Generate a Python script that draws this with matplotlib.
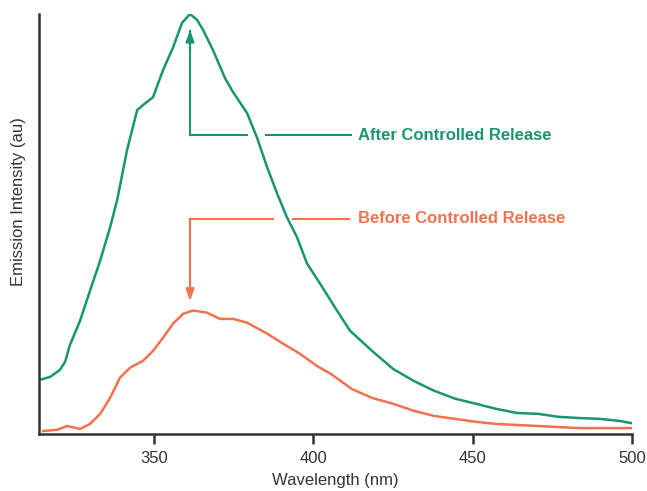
import numpy as np
import matplotlib.pyplot as plt

# emission spectra (arbitrary units, peak = 100)
after_wl = [314.2, 317.4, 320.5, 322.1, 323.6, 326.8, 329.9, 333.1, 336.2, 338.4,
            341.5, 344.7, 346.5, 349.7, 352.8, 356.0, 358.8, 361.3, 363.5, 365.4,
            368.5, 372.3, 374.8, 379.2, 382.3, 385.5, 388.6, 391.7, 394.9, 398.0,
            402.1, 407.4, 411.5, 418.4, 425.0, 431.6, 437.9, 444.5, 451.0, 457.3,
            463.9, 470.5, 476.8, 483.4, 490.0, 496.2, 499.7]
after_int = [12.9, 13.6, 15.3, 17.2, 21.2, 27.0, 34.1, 41.3, 49.2, 55.6,
             67.5, 77.1, 78.3, 80.2, 86.6, 92.1, 97.9, 100.0, 98.6, 96.2,
             91.4, 84.7, 81.4, 76.4, 70.6, 63.5, 57.3, 51.6, 46.8, 40.6,
             35.8, 29.4, 24.6, 19.8, 15.5, 12.6, 10.3, 8.4, 7.2, 6.0,
             5.0, 4.8, 4.1, 3.8, 3.6, 3.1, 2.6]

before_wl = [315.2, 319.6, 322.7, 326.8, 329.9, 333.1, 336.2, 339.3, 342.5, 346.5,
             349.7, 352.8, 356.0, 359.1, 362.2, 366.6, 370.7, 374.8, 379.2, 385.5,
             390.5, 395.8, 401.1, 405.5, 412.1, 418.4, 425.0, 431.6, 437.9, 444.5,
             451.0, 457.3, 470.5, 483.4, 499.7]
before_int = [0.7, 1.0, 1.9, 1.2, 2.4, 4.8, 8.6, 13.4, 15.8, 17.4,
              19.8, 22.9, 26.3, 28.6, 29.4, 28.9, 27.4, 27.4, 26.5, 23.9,
              21.5, 19.1, 16.2, 14.3, 10.7, 8.6, 7.2, 5.5, 4.3, 3.6,
              2.9, 2.4, 1.9, 1.4, 1.4]

x_ticks = [350, 400, 450, 500]

green = "#17976b"
orange = "#f3714f"
axcol = "#333333"

plt.rcParams["font.family"] = ["Liberation Sans", "DejaVu Sans"]

fig = plt.figure(figsize=(6.47, 4.91), dpi=100)
ax = fig.add_axes([0.0603, 0.1161, 0.9165, 0.8554])

ax.plot(after_wl, after_int, color=green, lw=1.8, solid_joinstyle="round")
ax.plot(before_wl, before_int, color=orange, lw=1.8, solid_joinstyle="round")

ax.set_xlim(313.9, 500)
ax.set_ylim(0, 100)
ax.set_xticks(x_ticks)
ax.set_yticks([])
for s in ["top", "right"]:
    ax.spines[s].set_visible(False)
for s in ["left", "bottom"]:
    ax.spines[s].set_color(axcol)
    ax.spines[s].set_linewidth(1.8)
ax.tick_params(axis="x", direction="out", length=7, width=1.8, color=axcol,
               labelsize=12, labelcolor=axcol, pad=5)
ax.set_xlabel("Wavelength (nm)", fontsize=12, color=axcol, labelpad=5.5)
ax.set_ylabel("Emission Intensity (au)", fontsize=12, color=axcol)
ax.yaxis.set_label_coords(-0.022, 0.554)

# peak markers: elbow connector with a gap where it crosses the green curve
pk_after = after_wl[int(np.argmax(after_int))]

ya = 71.1
ax.plot([pk_after, pk_after], [ya, 96], color=green, lw=1.5)
ax.plot([pk_after, 379.3], [ya, ya], color=green, lw=1.5)
ax.plot([385.0, 411.8], [ya, ya], color=green, lw=1.5)
ax.annotate("", xy=(pk_after, 96.9), xytext=(pk_after, 90),
            arrowprops=dict(arrowstyle="-|>,head_length=0.7,head_width=0.25",
                            color=green, lw=1.5))
ax.text(414.0, ya, "After Controlled Release", color=green, fontsize=12,
        fontweight="bold", va="center", ha="left")

yb = 51.3
ax.plot([pk_after, pk_after], [yb, 34], color=orange, lw=1.5)
ax.plot([pk_after, 387.2], [yb, yb], color=orange, lw=1.5)
ax.plot([393.5, 411.2], [yb, yb], color=orange, lw=1.5)
ax.annotate("", xy=(pk_after, 31.0), xytext=(pk_after, 37),
            arrowprops=dict(arrowstyle="-|>,head_length=0.7,head_width=0.25",
                            color=orange, lw=1.5))
ax.text(414.0, yb, "Before Controlled Release", color=orange, fontsize=12,
        fontweight="bold", va="center", ha="left")

fig.savefig("out.png", dpi=100)
